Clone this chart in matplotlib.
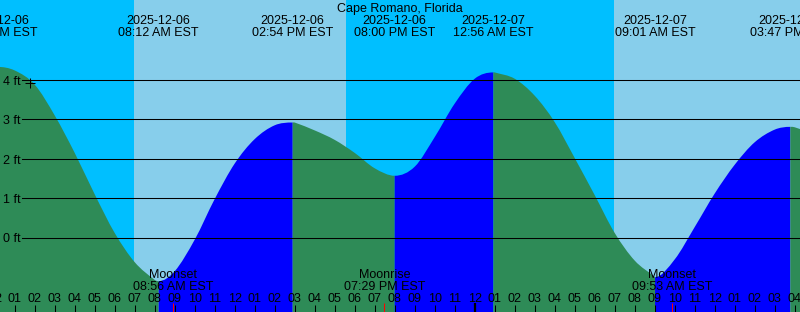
import matplotlib
matplotlib.use("Agg")
import matplotlib.pyplot as plt
import matplotlib.transforms as mtransforms
from matplotlib.path import Path
from matplotlib.patches import PathPatch
import numpy as np

# time axis: hours after 2025-12-06 00:00 EST
hour_marks = list(range(42))
hour_heights = [4.32, 4.24, 3.88, 3.10, 2.15, 1.10, 0.12, -0.62, -1.07, -0.85,
                -0.05, 0.98, 1.88, 2.50, 2.85, 2.92, 2.72, 2.48, 2.15, 1.76,
                1.57, 1.80, 2.55, 3.40, 4.03, 4.19, 4.03, 3.60, 2.93, 2.02,
                1.08, 0.12, -0.58, -0.99, -0.55, 0.27, 1.12, 1.85, 2.42, 2.74,
                2.80, 2.62]

tide_times = [0.133, 8.2, 14.9, 20.0, 24.933, 33.017, 39.783]
tide_heights = [4.33, -1.10, 2.92, 1.57, 4.19, -1.00, 2.81]
tide_high = [True, False, True, False, True, False, True]
tide_dates = ["2025-12-06", "2025-12-06", "2025-12-06", "2025-12-06",
              "2025-12-07", "2025-12-07", "2025-12-07"]
tide_clock = ["12:08 AM EST", "08:12 AM EST", "02:54 PM EST", "08:00 PM EST",
              "12:56 AM EST", "09:01 AM EST", "03:47 PM EST"]

sun_times = [6.967, 17.567, 30.967]   # sunrise, sunset, sunrise
moon_times = [8.933, 19.483, 33.883]
moon_names = ["Moonset", "Moonrise", "Moonset"]
moon_clock = ["08:56 AM EST", "07:29 PM EST", "09:53 AM EST"]

hour_ticks = list(range(41))
hour_labels = ["12", "01", "02", "03", "04", "05", "06", "07", "08", "09", "10", "11"] * 3 \
    + ["12", "01", "02", "03", "04"]
midnight_ticks = [0, 24]

depth_levels = [0, 1, 2, 3, 4]
now_time, now_height = 1.765, 3.92

station = "Cape Romano, Florida"

# %%
W, H = 800, 312
x0, x1 = 0.265, 40.265
y0, y1 = -1.883, 6.026

plt.rcParams['font.family'] = ['Liberation Sans', 'DejaVu Sans']
fs = 9

fig = plt.figure(figsize=(W / 100, H / 100), dpi=100)
ax = fig.add_axes([0, 0, 1, 1])
ax.set_xlim(x0, x1)
ax.set_ylim(y0, y1)
ax.axis('off')


def fy(px):
    # pixel row from the top -> axes fraction
    return 1 - px / H


# day / night bands
edges = [x0] + sun_times + [x1]
for i in range(len(edges) - 1):
    ax.axvspan(edges[i], edges[i + 1], color='#00BFFF' if i % 2 == 0 else '#87CEEB', lw=0, zorder=0)

# tide readings, sorted, with flat tangents at the turning points
t_all = np.array(hour_marks + tide_times, dtype=float)
h_all = np.array(hour_heights + tide_heights, dtype=float)
order = np.argsort(t_all)
t_all, h_all = t_all[order], h_all[order]
slope = np.zeros_like(h_all)
slope[1:-1] = (h_all[2:] - h_all[:-2]) / (t_all[2:] - t_all[:-2])
slope[0] = (h_all[1] - h_all[0]) / (t_all[1] - t_all[0])
slope[-1] = (h_all[-1] - h_all[-2]) / (t_all[-1] - t_all[-2])
slope[np.isin(t_all, tide_times)] = 0


def tide_patch(m, color):
    ts, hs, ss = t_all[m], h_all[m], slope[m]
    verts = [(ts[0], y0), (ts[0], hs[0])]
    codes = [Path.MOVETO, Path.LINETO]
    for k in range(len(ts) - 1):
        dt = (ts[k + 1] - ts[k]) / 3
        verts += [(ts[k] + dt, hs[k] + ss[k] * dt),
                  (ts[k + 1] - dt, hs[k + 1] - ss[k + 1] * dt),
                  (ts[k + 1], hs[k + 1])]
        codes += [Path.CURVE4] * 3
    verts += [(ts[-1], y0), (ts[0], y0)]
    codes += [Path.LINETO, Path.CLOSEPOLY]
    ax.add_patch(PathPatch(Path(verts, codes), facecolor=color, lw=0, zorder=1))


# green while falling, blue while rising
bounds = [-np.inf] + tide_times + [np.inf]
for i in range(len(bounds) - 1):
    m = (t_all >= bounds[i]) & (t_all <= bounds[i + 1])
    if m.sum() < 2:
        continue
    falling = tide_high[i - 1] if i > 0 else False
    tide_patch(m, '#2E8B57' if falling else '#0000FF')

# depth lines and labels
lbl_trans = mtransforms.offset_copy(ax.get_yaxis_transform(), fig=fig, y=-4.7, units='dots')
for lvl in depth_levels:
    ax.axhline(lvl, xmin=22 / W, xmax=1, color='black', lw=0.75, zorder=2)
    ax.text(2.7 / W, lvl, f"{lvl} ft", transform=lbl_trans, fontsize=fs,
            va='baseline', ha='left', zorder=3)

ax.plot([now_time], [now_height], marker='+', ms=6.5, mew=0.75, color='black', zorder=3)

# title and tide event labels
xt = ax.get_xaxis_transform()
ax.text(0.5, fy(11.7), station, transform=ax.transAxes, fontsize=fs, ha='center', va='baseline')
for t, d, c in zip(tide_times, tide_dates, tide_clock):
    ax.text(t, fy(24), d, transform=xt, fontsize=fs, ha='center', va='baseline', zorder=3)
    ax.text(t, fy(35.7), c, transform=xt, fontsize=fs, ha='center', va='baseline', zorder=3)

# moon events
for t, n, c in zip(moon_times, moon_names, moon_clock):
    ax.text(t, fy(278.3), n, transform=xt, fontsize=fs, ha='center', va='baseline', zorder=3)
    ax.text(t, fy(290), c, transform=xt, fontsize=fs, ha='center', va='baseline', zorder=3)

# hour ticks
for t, lab in zip(hour_ticks, hour_labels):
    ax.text(t, fy(302), lab, transform=xt, fontsize=fs, ha='center', va='baseline', zorder=3)
ax.vlines(hour_ticks, 0, 7 / H, transform=xt, color='black', lw=0.75, zorder=3)
ax.vlines(midnight_ticks, 0, 9 / H, transform=xt, color='black', lw=1.6, zorder=3)
ax.vlines(moon_times, 0, 9 / H, transform=xt, color='red', lw=0.75, zorder=3)

fig.savefig('out.png', dpi=100)
